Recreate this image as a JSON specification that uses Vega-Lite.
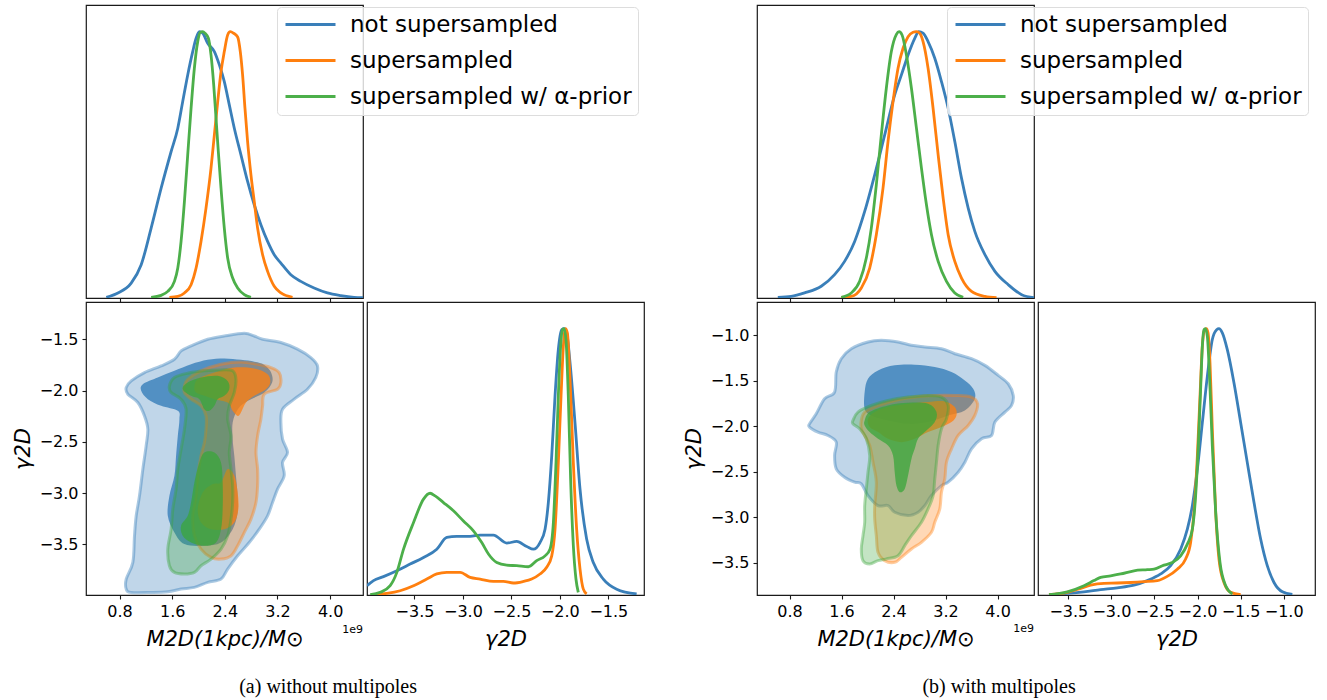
{
"$schema": "https://vega.github.io/schema/vega-lite/v6.json",
"background": "white",
"padding": {"left": 11, "top": 4, "right": 2, "bottom": 2},
"config": {
  "view": {"stroke": "#1a1a1a", "strokeWidth": 1.2},
  "axis": {"domain": false, "grid": false, "tickColor": "#1a1a1a", "tickSize": 4, "tickWidth": 1.1, "labelFont": "DejaVu Sans", "labelFontSize": 16, "labelColor": "#000", "labelPadding": 4, "labelOverlap": false, "labelFlush": false, "titleFont": "DejaVu Sans", "titleFontSize": 21, "titleFontStyle": "italic", "titleFontWeight": "normal", "titleColor": "#000"},
  "axisX": {"titlePadding": 9},
  "axisY": {"titlePadding": 6},
  "legend": {"orient": "none", "title": null, "symbolType": "M-2.5,0H2.5", "symbolSize": 400, "symbolStrokeWidth": 3, "symbolOffset": 16, "labelOffset": 28, "labelFontSize": 23, "labelFont": "DejaVu Sans", "labelColor": "#000", "padding": 6, "rowPadding": 12, "strokeColor": "#dddddd", "fillColor": "rgba(255,255,255,0.8)", "cornerRadius": 4, "labelLimit": 400}
},
"datasets": {
  "mA": [
    {"s":"not supersampled","x":0.598,"d":0.0025},{"s":"not supersampled","x":0.775,"d":0.019},{"s":"not supersampled","x":0.977,"d":0.056},{"s":"not supersampled","x":1.129,"d":0.125},{"s":"not supersampled","x":1.28,"d":0.2625},{"s":"not supersampled","x":1.432,"d":0.4125},{"s":"not supersampled","x":1.584,"d":0.55},{"s":"not supersampled","x":1.685,"d":0.6375},{"s":"not supersampled","x":1.76,"d":0.7375},{"s":"not supersampled","x":1.836,"d":0.8375},{"s":"not supersampled","x":1.912,"d":0.925},{"s":"not supersampled","x":1.963,"d":0.975},{"s":"not supersampled","x":2.013,"d":1.0},{"s":"not supersampled","x":2.064,"d":0.994},{"s":"not supersampled","x":2.14,"d":0.956},{"s":"not supersampled","x":2.241,"d":0.925},{"s":"not supersampled","x":2.317,"d":0.875},{"s":"not supersampled","x":2.392,"d":0.8125},{"s":"not supersampled","x":2.468,"d":0.725},{"s":"not supersampled","x":2.544,"d":0.6375},{"s":"not supersampled","x":2.645,"d":0.5375},{"s":"not supersampled","x":2.746,"d":0.4375},{"s":"not supersampled","x":2.847,"d":0.35},{"s":"not supersampled","x":2.948,"d":0.275},{"s":"not supersampled","x":3.05,"d":0.2125},{"s":"not supersampled","x":3.151,"d":0.1625},{"s":"not supersampled","x":3.252,"d":0.131},{"s":"not supersampled","x":3.403,"d":0.0875},{"s":"not supersampled","x":3.555,"d":0.0625},{"s":"not supersampled","x":3.757,"d":0.0375},{"s":"not supersampled","x":3.959,"d":0.019},{"s":"not supersampled","x":4.162,"d":0.009},{"s":"not supersampled","x":4.364,"d":0.0025},{"s":"not supersampled","x":4.5,"d":0.001},
    {"s":"supersampled","x":1.558,"d":0.0025},{"s":"supersampled","x":1.685,"d":0.006},{"s":"supersampled","x":1.786,"d":0.019},{"s":"supersampled","x":1.887,"d":0.05},{"s":"supersampled","x":1.963,"d":0.1125},{"s":"supersampled","x":2.038,"d":0.2125},{"s":"supersampled","x":2.114,"d":0.3375},{"s":"supersampled","x":2.19,"d":0.4875},{"s":"supersampled","x":2.241,"d":0.6125},{"s":"supersampled","x":2.292,"d":0.7375},{"s":"supersampled","x":2.342,"d":0.85},{"s":"supersampled","x":2.392,"d":0.925},{"s":"supersampled","x":2.443,"d":0.9875},{"s":"supersampled","x":2.483,"d":1.0},{"s":"supersampled","x":2.534,"d":0.994},{"s":"supersampled","x":2.595,"d":0.98},{"s":"supersampled","x":2.635,"d":0.925},{"s":"supersampled","x":2.67,"d":0.8375},{"s":"supersampled","x":2.706,"d":0.7125},{"s":"supersampled","x":2.746,"d":0.5875},{"s":"supersampled","x":2.797,"d":0.4625},{"s":"supersampled","x":2.847,"d":0.3625},{"s":"supersampled","x":2.898,"d":0.2625},{"s":"supersampled","x":2.974,"d":0.1625},{"s":"supersampled","x":3.05,"d":0.1},{"s":"supersampled","x":3.151,"d":0.044},{"s":"supersampled","x":3.252,"d":0.019},{"s":"supersampled","x":3.429,"d":0.0025},
    {"s":"supersampled w/ α-prior","x":1.28,"d":0.0025},{"s":"supersampled w/ α-prior","x":1.432,"d":0.01},{"s":"supersampled w/ α-prior","x":1.533,"d":0.025},{"s":"supersampled w/ α-prior","x":1.634,"d":0.0625},{"s":"supersampled w/ α-prior","x":1.685,"d":0.1125},{"s":"supersampled w/ α-prior","x":1.735,"d":0.2125},{"s":"supersampled w/ α-prior","x":1.786,"d":0.3625},{"s":"supersampled w/ α-prior","x":1.836,"d":0.5375},{"s":"supersampled w/ α-prior","x":1.887,"d":0.7125},{"s":"supersampled w/ α-prior","x":1.937,"d":0.8625},{"s":"supersampled w/ α-prior","x":1.988,"d":0.9625},{"s":"supersampled w/ α-prior","x":2.028,"d":0.9975},{"s":"supersampled w/ α-prior","x":2.064,"d":1.0},{"s":"supersampled w/ α-prior","x":2.099,"d":0.994},{"s":"supersampled w/ α-prior","x":2.15,"d":0.975},{"s":"supersampled w/ α-prior","x":2.19,"d":0.9125},{"s":"supersampled w/ α-prior","x":2.231,"d":0.8},{"s":"supersampled w/ α-prior","x":2.266,"d":0.675},{"s":"supersampled w/ α-prior","x":2.301,"d":0.55},{"s":"supersampled w/ α-prior","x":2.342,"d":0.4125},{"s":"supersampled w/ α-prior","x":2.392,"d":0.2625},{"s":"supersampled w/ α-prior","x":2.443,"d":0.15},{"s":"supersampled w/ α-prior","x":2.519,"d":0.075},{"s":"supersampled w/ α-prior","x":2.595,"d":0.0375},{"s":"supersampled w/ α-prior","x":2.696,"d":0.0125},{"s":"supersampled w/ α-prior","x":2.797,"d":0.0025}
  ],
  "mB": [
    {"s":"not supersampled","x":0.62,"d":0.0025},{"s":"not supersampled","x":0.826,"d":0.006},{"s":"not supersampled","x":1.031,"d":0.019},{"s":"not supersampled","x":1.288,"d":0.044},{"s":"not supersampled","x":1.493,"d":0.0875},{"s":"not supersampled","x":1.647,"d":0.1375},{"s":"not supersampled","x":1.802,"d":0.2125},{"s":"not supersampled","x":1.956,"d":0.325},{"s":"not supersampled","x":2.11,"d":0.4625},{"s":"not supersampled","x":2.264,"d":0.6125},{"s":"not supersampled","x":2.418,"d":0.7625},{"s":"not supersampled","x":2.521,"d":0.8375},{"s":"not supersampled","x":2.623,"d":0.9125},{"s":"not supersampled","x":2.726,"d":0.975},{"s":"not supersampled","x":2.788,"d":1.0},{"s":"not supersampled","x":2.854,"d":0.994},{"s":"not supersampled","x":2.931,"d":0.9625},{"s":"not supersampled","x":3.034,"d":0.9},{"s":"not supersampled","x":3.137,"d":0.8125},{"s":"not supersampled","x":3.24,"d":0.7125},{"s":"not supersampled","x":3.342,"d":0.5875},{"s":"not supersampled","x":3.445,"d":0.45},{"s":"not supersampled","x":3.548,"d":0.3375},{"s":"not supersampled","x":3.65,"d":0.25},{"s":"not supersampled","x":3.805,"d":0.1625},{"s":"not supersampled","x":3.959,"d":0.1},{"s":"not supersampled","x":4.164,"d":0.05},{"s":"not supersampled","x":4.37,"d":0.0125},{"s":"not supersampled","x":4.56,"d":0.001},
    {"s":"supersampled","x":1.596,"d":0.0025},{"s":"supersampled","x":1.75,"d":0.006},{"s":"supersampled","x":1.904,"d":0.0375},{"s":"supersampled","x":2.033,"d":0.1125},{"s":"supersampled","x":2.135,"d":0.2375},{"s":"supersampled","x":2.238,"d":0.4125},{"s":"supersampled","x":2.315,"d":0.5875},{"s":"supersampled","x":2.392,"d":0.7375},{"s":"supersampled","x":2.469,"d":0.8625},{"s":"supersampled","x":2.546,"d":0.9375},{"s":"supersampled","x":2.623,"d":0.981},{"s":"supersampled","x":2.7,"d":0.9975},{"s":"supersampled","x":2.752,"d":1.0},{"s":"supersampled","x":2.803,"d":0.994},{"s":"supersampled","x":2.854,"d":0.9625},{"s":"supersampled","x":2.931,"d":0.8625},{"s":"supersampled","x":3.008,"d":0.7125},{"s":"supersampled","x":3.086,"d":0.5375},{"s":"supersampled","x":3.163,"d":0.375},{"s":"supersampled","x":3.24,"d":0.2375},{"s":"supersampled","x":3.342,"d":0.1375},{"s":"supersampled","x":3.445,"d":0.075},{"s":"supersampled","x":3.599,"d":0.025},{"s":"supersampled","x":3.805,"d":0.006},{"s":"supersampled","x":3.984,"d":0.001},
    {"s":"supersampled w/ α-prior","x":1.596,"d":0.0025},{"s":"supersampled w/ α-prior","x":1.75,"d":0.019},{"s":"supersampled w/ α-prior","x":1.879,"d":0.0625},{"s":"supersampled w/ α-prior","x":1.981,"d":0.15},{"s":"supersampled w/ α-prior","x":2.058,"d":0.2625},{"s":"supersampled w/ α-prior","x":2.135,"d":0.425},{"s":"supersampled w/ α-prior","x":2.212,"d":0.6125},{"s":"supersampled w/ α-prior","x":2.289,"d":0.7875},{"s":"supersampled w/ α-prior","x":2.366,"d":0.925},{"s":"supersampled w/ α-prior","x":2.444,"d":0.99},{"s":"supersampled w/ α-prior","x":2.485,"d":1.0},{"s":"supersampled w/ α-prior","x":2.531,"d":0.9875},{"s":"supersampled w/ α-prior","x":2.598,"d":0.9125},{"s":"supersampled w/ α-prior","x":2.675,"d":0.7875},{"s":"supersampled w/ α-prior","x":2.752,"d":0.6375},{"s":"supersampled w/ α-prior","x":2.829,"d":0.4875},{"s":"supersampled w/ α-prior","x":2.906,"d":0.35},{"s":"supersampled w/ α-prior","x":2.983,"d":0.2375},{"s":"supersampled w/ α-prior","x":3.086,"d":0.1375},{"s":"supersampled w/ α-prior","x":3.214,"d":0.0625},{"s":"supersampled w/ α-prior","x":3.342,"d":0.019},{"s":"supersampled w/ α-prior","x":3.471,"d":0.0025}
  ],
  "gA": [
    {"s":"not supersampled","x":-3.99,"d":0.035},{"s":"not supersampled","x":-3.923,"d":0.054},{"s":"not supersampled","x":-3.82,"d":0.069},{"s":"not supersampled","x":-3.682,"d":0.091},{"s":"not supersampled","x":-3.545,"d":0.116},{"s":"not supersampled","x":-3.407,"d":0.141},{"s":"not supersampled","x":-3.27,"d":0.172},{"s":"not supersampled","x":-3.167,"d":0.216},{"s":"not supersampled","x":-3.064,"d":0.22},{"s":"not supersampled","x":-2.926,"d":0.22},{"s":"not supersampled","x":-2.823,"d":0.225},{"s":"not supersampled","x":-2.686,"d":0.225},{"s":"not supersampled","x":-2.548,"d":0.195},{"s":"not supersampled","x":-2.445,"d":0.201},{"s":"not supersampled","x":-2.342,"d":0.182},{"s":"not supersampled","x":-2.273,"d":0.172},{"s":"not supersampled","x":-2.205,"d":0.197},{"s":"not supersampled","x":-2.153,"d":0.247},{"s":"not supersampled","x":-2.119,"d":0.347},{"s":"not supersampled","x":-2.084,"d":0.522},{"s":"not supersampled","x":-2.05,"d":0.747},{"s":"not supersampled","x":-2.016,"d":0.921},{"s":"not supersampled","x":-1.981,"d":0.996},{"s":"not supersampled","x":-1.957,"d":1.0},{"s":"not supersampled","x":-1.93,"d":0.984},{"s":"not supersampled","x":-1.895,"d":0.871},{"s":"not supersampled","x":-1.844,"d":0.647},{"s":"not supersampled","x":-1.792,"d":0.397},{"s":"not supersampled","x":-1.724,"d":0.21},{"s":"not supersampled","x":-1.655,"d":0.122},{"s":"not supersampled","x":-1.552,"d":0.06},{"s":"not supersampled","x":-1.414,"d":0.022},{"s":"not supersampled","x":-1.208,"d":0.004},
    {"s":"supersampled","x":-3.923,"d":0.001},{"s":"supersampled","x":-3.785,"d":0.006},{"s":"supersampled","x":-3.648,"d":0.016},{"s":"supersampled","x":-3.51,"d":0.035},{"s":"supersampled","x":-3.373,"d":0.06},{"s":"supersampled","x":-3.27,"d":0.079},{"s":"supersampled","x":-3.167,"d":0.085},{"s":"supersampled","x":-3.029,"d":0.085},{"s":"supersampled","x":-2.926,"d":0.066},{"s":"supersampled","x":-2.823,"d":0.06},{"s":"supersampled","x":-2.686,"d":0.051},{"s":"supersampled","x":-2.583,"d":0.051},{"s":"supersampled","x":-2.48,"d":0.045},{"s":"supersampled","x":-2.376,"d":0.051},{"s":"supersampled","x":-2.291,"d":0.06},{"s":"supersampled","x":-2.205,"d":0.079},{"s":"supersampled","x":-2.136,"d":0.104},{"s":"supersampled","x":-2.084,"d":0.147},{"s":"supersampled","x":-2.05,"d":0.247},{"s":"supersampled","x":-2.016,"d":0.497},{"s":"supersampled","x":-1.988,"d":0.747},{"s":"supersampled","x":-1.964,"d":0.934},{"s":"supersampled","x":-1.943,"d":1.0},{"s":"supersampled","x":-1.923,"d":0.984},{"s":"supersampled","x":-1.895,"d":0.809},{"s":"supersampled","x":-1.861,"d":0.497},{"s":"supersampled","x":-1.827,"d":0.247},{"s":"supersampled","x":-1.792,"d":0.097},{"s":"supersampled","x":-1.758,"d":0.022},{"s":"supersampled","x":-1.724,"d":0.004},
    {"s":"supersampled w/ α-prior","x":-3.957,"d":0.001},{"s":"supersampled w/ α-prior","x":-3.854,"d":0.01},{"s":"supersampled w/ α-prior","x":-3.751,"d":0.035},{"s":"supersampled w/ α-prior","x":-3.682,"d":0.085},{"s":"supersampled w/ α-prior","x":-3.613,"d":0.172},{"s":"supersampled w/ α-prior","x":-3.51,"d":0.272},{"s":"supersampled w/ α-prior","x":-3.407,"d":0.36},{"s":"supersampled w/ α-prior","x":-3.339,"d":0.382},{"s":"supersampled w/ α-prior","x":-3.287,"d":0.372},{"s":"supersampled w/ α-prior","x":-3.201,"d":0.347},{"s":"supersampled w/ α-prior","x":-3.098,"d":0.316},{"s":"supersampled w/ α-prior","x":-2.995,"d":0.278},{"s":"supersampled w/ α-prior","x":-2.892,"d":0.241},{"s":"supersampled w/ α-prior","x":-2.806,"d":0.197},{"s":"supersampled w/ α-prior","x":-2.737,"d":0.154},{"s":"supersampled w/ α-prior","x":-2.651,"d":0.122},{"s":"supersampled w/ α-prior","x":-2.548,"d":0.112},{"s":"supersampled w/ α-prior","x":-2.445,"d":0.11},{"s":"supersampled w/ α-prior","x":-2.325,"d":0.106},{"s":"supersampled w/ α-prior","x":-2.239,"d":0.129},{"s":"supersampled w/ α-prior","x":-2.153,"d":0.147},{"s":"supersampled w/ α-prior","x":-2.102,"d":0.172},{"s":"supersampled w/ α-prior","x":-2.067,"d":0.272},{"s":"supersampled w/ α-prior","x":-2.04,"d":0.497},{"s":"supersampled w/ α-prior","x":-2.016,"d":0.747},{"s":"supersampled w/ α-prior","x":-1.992,"d":0.934},{"s":"supersampled w/ α-prior","x":-1.974,"d":0.996},{"s":"supersampled w/ α-prior","x":-1.957,"d":1.0},{"s":"supersampled w/ α-prior","x":-1.937,"d":0.959},{"s":"supersampled w/ α-prior","x":-1.913,"d":0.747},{"s":"supersampled w/ α-prior","x":-1.889,"d":0.434},{"s":"supersampled w/ α-prior","x":-1.861,"d":0.185},{"s":"supersampled w/ α-prior","x":-1.834,"d":0.06},{"s":"supersampled w/ α-prior","x":-1.81,"d":0.01}
  ],
  "gB": [
    {"s":"not supersampled","x":-3.724,"d":0.001},{"s":"not supersampled","x":-3.512,"d":0.006},{"s":"not supersampled","x":-3.318,"d":0.012},{"s":"not supersampled","x":-3.125,"d":0.02},{"s":"not supersampled","x":-2.931,"d":0.027},{"s":"not supersampled","x":-2.738,"d":0.037},{"s":"not supersampled","x":-2.583,"d":0.054},{"s":"not supersampled","x":-2.428,"d":0.079},{"s":"not supersampled","x":-2.312,"d":0.11},{"s":"not supersampled","x":-2.196,"d":0.172},{"s":"not supersampled","x":-2.118,"d":0.247},{"s":"not supersampled","x":-2.06,"d":0.335},{"s":"not supersampled","x":-2.002,"d":0.472},{"s":"not supersampled","x":-1.944,"d":0.647},{"s":"not supersampled","x":-1.886,"d":0.821},{"s":"not supersampled","x":-1.828,"d":0.959},{"s":"not supersampled","x":-1.778,"d":0.996},{"s":"not supersampled","x":-1.751,"d":1.0},{"s":"not supersampled","x":-1.712,"d":0.984},{"s":"not supersampled","x":-1.654,"d":0.921},{"s":"not supersampled","x":-1.577,"d":0.797},{"s":"not supersampled","x":-1.499,"d":0.647},{"s":"not supersampled","x":-1.422,"d":0.497},{"s":"not supersampled","x":-1.344,"d":0.347},{"s":"not supersampled","x":-1.267,"d":0.21},{"s":"not supersampled","x":-1.19,"d":0.11},{"s":"not supersampled","x":-1.112,"d":0.047},{"s":"not supersampled","x":-1.015,"d":0.012},{"s":"not supersampled","x":-0.899,"d":0.002},
    {"s":"supersampled","x":-3.724,"d":0.001},{"s":"supersampled","x":-3.512,"d":0.01},{"s":"supersampled","x":-3.357,"d":0.025},{"s":"supersampled","x":-3.241,"d":0.037},{"s":"supersampled","x":-3.086,"d":0.044},{"s":"supersampled","x":-2.931,"d":0.045},{"s":"supersampled","x":-2.776,"d":0.047},{"s":"supersampled","x":-2.622,"d":0.05},{"s":"supersampled","x":-2.467,"d":0.054},{"s":"supersampled","x":-2.351,"d":0.07},{"s":"supersampled","x":-2.235,"d":0.097},{"s":"supersampled","x":-2.138,"d":0.135},{"s":"supersampled","x":-2.08,"d":0.197},{"s":"supersampled","x":-2.041,"d":0.31},{"s":"supersampled","x":-2.002,"d":0.522},{"s":"supersampled","x":-1.971,"d":0.747},{"s":"supersampled","x":-1.944,"d":0.934},{"s":"supersampled","x":-1.917,"d":0.996},{"s":"supersampled","x":-1.898,"d":1.0},{"s":"supersampled","x":-1.878,"d":0.984},{"s":"supersampled","x":-1.855,"d":0.871},{"s":"supersampled","x":-1.828,"d":0.622},{"s":"supersampled","x":-1.789,"d":0.31},{"s":"supersampled","x":-1.751,"d":0.135},{"s":"supersampled","x":-1.693,"d":0.047},{"s":"supersampled","x":-1.615,"d":0.01},{"s":"supersampled","x":-1.499,"d":0.001},
    {"s":"supersampled w/ α-prior","x":-3.724,"d":0.001},{"s":"supersampled w/ α-prior","x":-3.512,"d":0.012},{"s":"supersampled w/ α-prior","x":-3.318,"d":0.035},{"s":"supersampled w/ α-prior","x":-3.202,"d":0.054},{"s":"supersampled w/ α-prior","x":-3.125,"d":0.066},{"s":"supersampled w/ α-prior","x":-3.009,"d":0.072},{"s":"supersampled w/ α-prior","x":-2.892,"d":0.079},{"s":"supersampled w/ α-prior","x":-2.738,"d":0.091},{"s":"supersampled w/ α-prior","x":-2.583,"d":0.095},{"s":"supersampled w/ α-prior","x":-2.505,"d":0.097},{"s":"supersampled w/ α-prior","x":-2.389,"d":0.112},{"s":"supersampled w/ α-prior","x":-2.293,"d":0.122},{"s":"supersampled w/ α-prior","x":-2.196,"d":0.147},{"s":"supersampled w/ α-prior","x":-2.118,"d":0.191},{"s":"supersampled w/ α-prior","x":-2.06,"d":0.247},{"s":"supersampled w/ α-prior","x":-2.022,"d":0.372},{"s":"supersampled w/ α-prior","x":-1.991,"d":0.559},{"s":"supersampled w/ α-prior","x":-1.964,"d":0.772},{"s":"supersampled w/ α-prior","x":-1.944,"d":0.934},{"s":"supersampled w/ α-prior","x":-1.925,"d":0.996},{"s":"supersampled w/ α-prior","x":-1.909,"d":1.0},{"s":"supersampled w/ α-prior","x":-1.886,"d":0.971},{"s":"supersampled w/ α-prior","x":-1.859,"d":0.809},{"s":"supersampled w/ α-prior","x":-1.828,"d":0.559},{"s":"supersampled w/ α-prior","x":-1.789,"d":0.31},{"s":"supersampled w/ α-prior","x":-1.739,"d":0.122},{"s":"supersampled w/ α-prior","x":-1.673,"d":0.035},{"s":"supersampled w/ α-prior","x":-1.596,"d":0.004}
  ],
  "cA": [
    {"p":"a1","s":"blue","l":"outer","M":0.901,"g":-1.971},{"p":"a1","s":"blue","l":"outer","M":0.977,"g":-1.906},{"p":"a1","s":"blue","l":"outer","M":1.179,"g":-1.825},{"p":"a1","s":"blue","l":"outer","M":1.432,"g":-1.76},{"p":"a1","s":"blue","l":"outer","M":1.634,"g":-1.695},{"p":"a1","s":"blue","l":"outer","M":1.735,"g":-1.614},{"p":"a1","s":"blue","l":"outer","M":1.887,"g":-1.565},{"p":"a1","s":"blue","l":"outer","M":2.14,"g":-1.5},{"p":"a1","s":"blue","l":"outer","M":2.392,"g":-1.468},{"p":"a1","s":"blue","l":"outer","M":2.696,"g":-1.442},{"p":"a1","s":"blue","l":"outer","M":2.847,"g":-1.468},{"p":"a1","s":"blue","l":"outer","M":2.974,"g":-1.5},{"p":"a1","s":"blue","l":"outer","M":3.252,"g":-1.532},{"p":"a1","s":"blue","l":"outer","M":3.505,"g":-1.597},{"p":"a1","s":"blue","l":"outer","M":3.707,"g":-1.679},{"p":"a1","s":"blue","l":"outer","M":3.808,"g":-1.76},{"p":"a1","s":"blue","l":"outer","M":3.782,"g":-1.873},{"p":"a1","s":"blue","l":"outer","M":3.656,"g":-1.987},{"p":"a1","s":"blue","l":"outer","M":3.454,"g":-2.084},{"p":"a1","s":"blue","l":"outer","M":3.277,"g":-2.182},{"p":"a1","s":"blue","l":"outer","M":3.252,"g":-2.312},{"p":"a1","s":"blue","l":"outer","M":3.277,"g":-2.474},{"p":"a1","s":"blue","l":"outer","M":3.353,"g":-2.604},{"p":"a1","s":"blue","l":"outer","M":3.277,"g":-2.701},{"p":"a1","s":"blue","l":"outer","M":3.302,"g":-2.831},{"p":"a1","s":"blue","l":"outer","M":3.201,"g":-2.961},{"p":"a1","s":"blue","l":"outer","M":3.125,"g":-3.091},{"p":"a1","s":"blue","l":"outer","M":3.05,"g":-3.221},{"p":"a1","s":"blue","l":"outer","M":2.923,"g":-3.351},{"p":"a1","s":"blue","l":"outer","M":2.771,"g":-3.481},{"p":"a1","s":"blue","l":"outer","M":2.595,"g":-3.611},{"p":"a1","s":"blue","l":"outer","M":2.443,"g":-3.74},{"p":"a1","s":"blue","l":"outer","M":2.342,"g":-3.838},{"p":"a1","s":"blue","l":"outer","M":2.14,"g":-3.87},{"p":"a1","s":"blue","l":"outer","M":1.937,"g":-3.919},{"p":"a1","s":"blue","l":"outer","M":1.735,"g":-3.935},{"p":"a1","s":"blue","l":"outer","M":1.533,"g":-3.961},{"p":"a1","s":"blue","l":"outer","M":1.28,"g":-3.968},{"p":"a1","s":"blue","l":"outer","M":0.977,"g":-3.968},{"p":"a1","s":"blue","l":"outer","M":0.901,"g":-3.935},{"p":"a1","s":"blue","l":"outer","M":0.901,"g":-3.838},{"p":"a1","s":"blue","l":"outer","M":1.002,"g":-3.675},{"p":"a1","s":"blue","l":"outer","M":1.027,"g":-3.416},{"p":"a1","s":"blue","l":"outer","M":1.053,"g":-3.221},{"p":"a1","s":"blue","l":"outer","M":1.103,"g":-3.026},{"p":"a1","s":"blue","l":"outer","M":1.154,"g":-2.766},{"p":"a1","s":"blue","l":"outer","M":1.204,"g":-2.539},{"p":"a1","s":"blue","l":"outer","M":1.23,"g":-2.377},{"p":"a1","s":"blue","l":"outer","M":1.179,"g":-2.247},{"p":"a1","s":"blue","l":"outer","M":1.078,"g":-2.117},{"p":"a1","s":"blue","l":"outer","M":0.926,"g":-2.036},
    {"p":"a2","s":"blue","l":"inner","M":1.129,"g":-2.003},{"p":"a2","s":"blue","l":"inner","M":1.154,"g":-1.938},{"p":"a2","s":"blue","l":"inner","M":1.381,"g":-1.873},{"p":"a2","s":"blue","l":"inner","M":1.634,"g":-1.808},{"p":"a2","s":"blue","l":"inner","M":1.887,"g":-1.744},{"p":"a2","s":"blue","l":"inner","M":2.14,"g":-1.701},{"p":"a2","s":"blue","l":"inner","M":2.392,"g":-1.688},{"p":"a2","s":"blue","l":"inner","M":2.645,"g":-1.701},{"p":"a2","s":"blue","l":"inner","M":2.85,"g":-1.72},{"p":"a2","s":"blue","l":"inner","M":3.0,"g":-1.75},{"p":"a2","s":"blue","l":"inner","M":3.1,"g":-1.82},{"p":"a2","s":"blue","l":"inner","M":3.12,"g":-1.92},{"p":"a2","s":"blue","l":"inner","M":3.0,"g":-2.02},{"p":"a2","s":"blue","l":"inner","M":2.75,"g":-2.1},{"p":"a2","s":"blue","l":"inner","M":2.6,"g":-2.18},{"p":"a2","s":"blue","l":"inner","M":2.52,"g":-2.31},{"p":"a2","s":"blue","l":"inner","M":2.519,"g":-2.474},{"p":"a2","s":"blue","l":"inner","M":2.544,"g":-2.636},{"p":"a2","s":"blue","l":"inner","M":2.569,"g":-2.831},{"p":"a2","s":"blue","l":"inner","M":2.595,"g":-3.026},{"p":"a2","s":"blue","l":"inner","M":2.595,"g":-3.188},{"p":"a2","s":"blue","l":"inner","M":2.519,"g":-3.351},{"p":"a2","s":"blue","l":"inner","M":2.342,"g":-3.481},{"p":"a2","s":"blue","l":"inner","M":2.089,"g":-3.513},{"p":"a2","s":"blue","l":"inner","M":1.786,"g":-3.497},{"p":"a2","s":"blue","l":"inner","M":1.634,"g":-3.383},{"p":"a2","s":"blue","l":"inner","M":1.533,"g":-3.221},{"p":"a2","s":"blue","l":"inner","M":1.558,"g":-3.026},{"p":"a2","s":"blue","l":"inner","M":1.634,"g":-2.831},{"p":"a2","s":"blue","l":"inner","M":1.659,"g":-2.636},{"p":"a2","s":"blue","l":"inner","M":1.685,"g":-2.442},{"p":"a2","s":"blue","l":"inner","M":1.71,"g":-2.279},{"p":"a2","s":"blue","l":"inner","M":1.685,"g":-2.198},{"p":"a2","s":"blue","l":"inner","M":1.432,"g":-2.149},{"p":"a2","s":"blue","l":"inner","M":1.23,"g":-2.084},
    {"p":"a3","s":"orange","l":"outer","M":1.786,"g":-1.955},{"p":"a3","s":"orange","l":"outer","M":1.836,"g":-1.89},{"p":"a3","s":"orange","l":"outer","M":2.038,"g":-1.808},{"p":"a3","s":"orange","l":"outer","M":2.342,"g":-1.744},{"p":"a3","s":"orange","l":"outer","M":2.645,"g":-1.721},{"p":"a3","s":"orange","l":"outer","M":2.898,"g":-1.744},{"p":"a3","s":"orange","l":"outer","M":3.1,"g":-1.776},{"p":"a3","s":"orange","l":"outer","M":3.226,"g":-1.825},{"p":"a3","s":"orange","l":"outer","M":3.252,"g":-1.922},{"p":"a3","s":"orange","l":"outer","M":3.201,"g":-1.987},{"p":"a3","s":"orange","l":"outer","M":2.999,"g":-2.036},{"p":"a3","s":"orange","l":"outer","M":2.974,"g":-2.149},{"p":"a3","s":"orange","l":"outer","M":2.948,"g":-2.279},{"p":"a3","s":"orange","l":"outer","M":2.898,"g":-2.442},{"p":"a3","s":"orange","l":"outer","M":2.873,"g":-2.604},{"p":"a3","s":"orange","l":"outer","M":2.898,"g":-2.766},{"p":"a3","s":"orange","l":"outer","M":2.898,"g":-2.929},{"p":"a3","s":"orange","l":"outer","M":2.873,"g":-3.091},{"p":"a3","s":"orange","l":"outer","M":2.797,"g":-3.253},{"p":"a3","s":"orange","l":"outer","M":2.696,"g":-3.383},{"p":"a3","s":"orange","l":"outer","M":2.595,"g":-3.513},{"p":"a3","s":"orange","l":"outer","M":2.494,"g":-3.611},{"p":"a3","s":"orange","l":"outer","M":2.342,"g":-3.643},{"p":"a3","s":"orange","l":"outer","M":2.19,"g":-3.627},{"p":"a3","s":"orange","l":"outer","M":2.038,"g":-3.546},{"p":"a3","s":"orange","l":"outer","M":1.937,"g":-3.416},{"p":"a3","s":"orange","l":"outer","M":1.912,"g":-3.221},{"p":"a3","s":"orange","l":"outer","M":1.963,"g":-3.026},{"p":"a3","s":"orange","l":"outer","M":1.988,"g":-2.831},{"p":"a3","s":"orange","l":"outer","M":2.038,"g":-2.636},{"p":"a3","s":"orange","l":"outer","M":2.089,"g":-2.507},{"p":"a3","s":"orange","l":"outer","M":2.114,"g":-2.377},{"p":"a3","s":"orange","l":"outer","M":2.114,"g":-2.247},{"p":"a3","s":"orange","l":"outer","M":2.038,"g":-2.149},{"p":"a3","s":"orange","l":"outer","M":1.887,"g":-2.084},{"p":"a3","s":"orange","l":"outer","M":1.786,"g":-2.019},
    {"p":"a4","s":"orange","l":"inner","M":1.937,"g":-1.971},{"p":"a4","s":"orange","l":"inner","M":1.988,"g":-1.89},{"p":"a4","s":"orange","l":"inner","M":2.241,"g":-1.825},{"p":"a4","s":"orange","l":"inner","M":2.544,"g":-1.776},{"p":"a4","s":"orange","l":"inner","M":2.847,"g":-1.786},{"p":"a4","s":"orange","l":"inner","M":3.05,"g":-1.841},{"p":"a4","s":"orange","l":"inner","M":3.09,"g":-1.922},{"p":"a4","s":"orange","l":"inner","M":3.024,"g":-1.987},{"p":"a4","s":"orange","l":"inner","M":2.847,"g":-2.052},{"p":"a4","s":"orange","l":"inner","M":2.721,"g":-2.117},{"p":"a4","s":"orange","l":"inner","M":2.645,"g":-2.214},{"p":"a4","s":"orange","l":"inner","M":2.595,"g":-2.247},{"p":"a4","s":"orange","l":"inner","M":2.519,"g":-2.198},{"p":"a4","s":"orange","l":"inner","M":2.443,"g":-2.117},{"p":"a4","s":"orange","l":"inner","M":2.241,"g":-2.084},{"p":"a4","s":"orange","l":"inner","M":2.089,"g":-2.052},{"p":"a4","s":"orange","l":"inner","M":1.963,"g":-2.019},
    {"p":"a5","s":"orange","l":"inner","M":2.342,"g":-2.896},{"p":"a5","s":"orange","l":"inner","M":2.443,"g":-2.766},{"p":"a5","s":"orange","l":"inner","M":2.544,"g":-2.831},{"p":"a5","s":"orange","l":"inner","M":2.595,"g":-2.994},{"p":"a5","s":"orange","l":"inner","M":2.605,"g":-3.156},{"p":"a5","s":"orange","l":"inner","M":2.544,"g":-3.286},{"p":"a5","s":"orange","l":"inner","M":2.392,"g":-3.351},{"p":"a5","s":"orange","l":"inner","M":2.19,"g":-3.351},{"p":"a5","s":"orange","l":"inner","M":2.038,"g":-3.286},{"p":"a5","s":"orange","l":"inner","M":1.988,"g":-3.156},{"p":"a5","s":"orange","l":"inner","M":2.064,"g":-2.994},{"p":"a5","s":"orange","l":"inner","M":2.215,"g":-2.912},
    {"p":"a6","s":"green","l":"outer","M":1.558,"g":-1.955},{"p":"a6","s":"green","l":"outer","M":1.634,"g":-1.873},{"p":"a6","s":"green","l":"outer","M":1.836,"g":-1.831},{"p":"a6","s":"green","l":"outer","M":2.089,"g":-1.808},{"p":"a6","s":"green","l":"outer","M":2.342,"g":-1.799},{"p":"a6","s":"green","l":"outer","M":2.519,"g":-1.808},{"p":"a6","s":"green","l":"outer","M":2.569,"g":-1.89},{"p":"a6","s":"green","l":"outer","M":2.544,"g":-2.019},{"p":"a6","s":"green","l":"outer","M":2.468,"g":-2.149},{"p":"a6","s":"green","l":"outer","M":2.443,"g":-2.279},{"p":"a6","s":"green","l":"outer","M":2.494,"g":-2.442},{"p":"a6","s":"green","l":"outer","M":2.468,"g":-2.604},{"p":"a6","s":"green","l":"outer","M":2.494,"g":-2.766},{"p":"a6","s":"green","l":"outer","M":2.519,"g":-2.929},{"p":"a6","s":"green","l":"outer","M":2.519,"g":-3.091},{"p":"a6","s":"green","l":"outer","M":2.494,"g":-3.253},{"p":"a6","s":"green","l":"outer","M":2.443,"g":-3.416},{"p":"a6","s":"green","l":"outer","M":2.342,"g":-3.546},{"p":"a6","s":"green","l":"outer","M":2.19,"g":-3.643},{"p":"a6","s":"green","l":"outer","M":2.038,"g":-3.708},{"p":"a6","s":"green","l":"outer","M":1.937,"g":-3.773},{"p":"a6","s":"green","l":"outer","M":1.786,"g":-3.789},{"p":"a6","s":"green","l":"outer","M":1.634,"g":-3.773},{"p":"a6","s":"green","l":"outer","M":1.558,"g":-3.708},{"p":"a6","s":"green","l":"outer","M":1.533,"g":-3.546},{"p":"a6","s":"green","l":"outer","M":1.584,"g":-3.351},{"p":"a6","s":"green","l":"outer","M":1.609,"g":-3.156},{"p":"a6","s":"green","l":"outer","M":1.659,"g":-2.961},{"p":"a6","s":"green","l":"outer","M":1.685,"g":-2.766},{"p":"a6","s":"green","l":"outer","M":1.735,"g":-2.572},{"p":"a6","s":"green","l":"outer","M":1.786,"g":-2.377},{"p":"a6","s":"green","l":"outer","M":1.811,"g":-2.182},{"p":"a6","s":"green","l":"outer","M":1.735,"g":-2.084},{"p":"a6","s":"green","l":"outer","M":1.584,"g":-2.019},
    {"p":"a7","s":"green","l":"inner","M":1.76,"g":-1.987},{"p":"a7","s":"green","l":"inner","M":1.836,"g":-1.922},{"p":"a7","s":"green","l":"inner","M":2.038,"g":-1.873},{"p":"a7","s":"green","l":"inner","M":2.291,"g":-1.857},{"p":"a7","s":"green","l":"inner","M":2.443,"g":-1.906},{"p":"a7","s":"green","l":"inner","M":2.468,"g":-1.987},{"p":"a7","s":"green","l":"inner","M":2.392,"g":-2.052},{"p":"a7","s":"green","l":"inner","M":2.291,"g":-2.084},{"p":"a7","s":"green","l":"inner","M":2.241,"g":-2.149},{"p":"a7","s":"green","l":"inner","M":2.165,"g":-2.198},{"p":"a7","s":"green","l":"inner","M":2.089,"g":-2.182},{"p":"a7","s":"green","l":"inner","M":2.013,"g":-2.084},{"p":"a7","s":"green","l":"inner","M":1.887,"g":-2.052},
    {"p":"a8","s":"green","l":"inner","M":1.937,"g":-2.896},{"p":"a8","s":"green","l":"inner","M":2.013,"g":-2.701},{"p":"a8","s":"green","l":"inner","M":2.089,"g":-2.604},{"p":"a8","s":"green","l":"inner","M":2.241,"g":-2.604},{"p":"a8","s":"green","l":"inner","M":2.342,"g":-2.701},{"p":"a8","s":"green","l":"inner","M":2.367,"g":-2.896},{"p":"a8","s":"green","l":"inner","M":2.367,"g":-3.156},{"p":"a8","s":"green","l":"inner","M":2.342,"g":-3.351},{"p":"a8","s":"green","l":"inner","M":2.266,"g":-3.481},{"p":"a8","s":"green","l":"inner","M":2.089,"g":-3.513},{"p":"a8","s":"green","l":"inner","M":1.887,"g":-3.481},{"p":"a8","s":"green","l":"inner","M":1.76,"g":-3.416},{"p":"a8","s":"green","l":"inner","M":1.735,"g":-3.318},{"p":"a8","s":"green","l":"inner","M":1.836,"g":-3.221},{"p":"a8","s":"green","l":"inner","M":1.887,"g":-3.091}
  ],
  "cB": [
    {"p":"b1","s":"blue","l":"outer","M":1.108,"g":-1.972},{"p":"b1","s":"blue","l":"outer","M":1.211,"g":-1.862},{"p":"b1","s":"blue","l":"outer","M":1.339,"g":-1.697},{"p":"b1","s":"blue","l":"outer","M":1.493,"g":-1.623},{"p":"b1","s":"blue","l":"outer","M":1.519,"g":-1.403},{"p":"b1","s":"blue","l":"outer","M":1.596,"g":-1.257},{"p":"b1","s":"blue","l":"outer","M":1.75,"g":-1.147},{"p":"b1","s":"blue","l":"outer","M":2.007,"g":-1.073},{"p":"b1","s":"blue","l":"outer","M":2.212,"g":-1.055},{"p":"b1","s":"blue","l":"outer","M":2.469,"g":-1.073},{"p":"b1","s":"blue","l":"outer","M":2.675,"g":-1.11},{"p":"b1","s":"blue","l":"outer","M":2.88,"g":-1.128},{"p":"b1","s":"blue","l":"outer","M":3.137,"g":-1.147},{"p":"b1","s":"blue","l":"outer","M":3.342,"g":-1.202},{"p":"b1","s":"blue","l":"outer","M":3.599,"g":-1.257},{"p":"b1","s":"blue","l":"outer","M":3.805,"g":-1.33},{"p":"b1","s":"blue","l":"outer","M":4.01,"g":-1.44},{"p":"b1","s":"blue","l":"outer","M":4.164,"g":-1.532},{"p":"b1","s":"blue","l":"outer","M":4.241,"g":-1.66},{"p":"b1","s":"blue","l":"outer","M":4.215,"g":-1.77},{"p":"b1","s":"blue","l":"outer","M":4.113,"g":-1.843},{"p":"b1","s":"blue","l":"outer","M":3.959,"g":-1.953},{"p":"b1","s":"blue","l":"outer","M":3.907,"g":-2.1},{"p":"b1","s":"blue","l":"outer","M":3.753,"g":-2.136},{"p":"b1","s":"blue","l":"outer","M":3.599,"g":-2.247},{"p":"b1","s":"blue","l":"outer","M":3.497,"g":-2.393},{"p":"b1","s":"blue","l":"outer","M":3.394,"g":-2.503},{"p":"b1","s":"blue","l":"outer","M":3.24,"g":-2.613},{"p":"b1","s":"blue","l":"outer","M":3.137,"g":-2.65},{"p":"b1","s":"blue","l":"outer","M":2.983,"g":-2.76},{"p":"b1","s":"blue","l":"outer","M":2.88,"g":-2.87},{"p":"b1","s":"blue","l":"outer","M":2.777,"g":-2.943},{"p":"b1","s":"blue","l":"outer","M":2.623,"g":-2.98},{"p":"b1","s":"blue","l":"outer","M":2.418,"g":-2.943},{"p":"b1","s":"blue","l":"outer","M":2.315,"g":-2.87},{"p":"b1","s":"blue","l":"outer","M":2.161,"g":-2.87},{"p":"b1","s":"blue","l":"outer","M":2.007,"g":-2.76},{"p":"b1","s":"blue","l":"outer","M":1.904,"g":-2.631},{"p":"b1","s":"blue","l":"outer","M":1.802,"g":-2.613},{"p":"b1","s":"blue","l":"outer","M":1.647,"g":-2.558},{"p":"b1","s":"blue","l":"outer","M":1.519,"g":-2.466},{"p":"b1","s":"blue","l":"outer","M":1.493,"g":-2.32},{"p":"b1","s":"blue","l":"outer","M":1.519,"g":-2.173},{"p":"b1","s":"blue","l":"outer","M":1.391,"g":-2.1},{"p":"b1","s":"blue","l":"outer","M":1.237,"g":-2.063},{"p":"b1","s":"blue","l":"outer","M":1.108,"g":-2.008},
    {"p":"b2","s":"blue","l":"inner","M":1.956,"g":-1.623},{"p":"b2","s":"blue","l":"inner","M":2.007,"g":-1.477},{"p":"b2","s":"blue","l":"inner","M":2.161,"g":-1.385},{"p":"b2","s":"blue","l":"inner","M":2.418,"g":-1.33},{"p":"b2","s":"blue","l":"inner","M":2.726,"g":-1.323},{"p":"b2","s":"blue","l":"inner","M":3.034,"g":-1.348},{"p":"b2","s":"blue","l":"inner","M":3.291,"g":-1.403},{"p":"b2","s":"blue","l":"inner","M":3.496,"g":-1.495},{"p":"b2","s":"blue","l":"inner","M":3.625,"g":-1.587},{"p":"b2","s":"blue","l":"inner","M":3.65,"g":-1.697},{"p":"b2","s":"blue","l":"inner","M":3.496,"g":-1.825},{"p":"b2","s":"blue","l":"inner","M":3.24,"g":-1.88},{"p":"b2","s":"blue","l":"inner","M":2.931,"g":-1.953},{"p":"b2","s":"blue","l":"inner","M":2.623,"g":-1.972},{"p":"b2","s":"blue","l":"inner","M":2.315,"g":-1.935},{"p":"b2","s":"blue","l":"inner","M":2.058,"g":-1.88},{"p":"b2","s":"blue","l":"inner","M":1.956,"g":-1.807},
    {"p":"b3","s":"orange","l":"outer","M":1.904,"g":-1.935},{"p":"b3","s":"orange","l":"outer","M":1.956,"g":-1.843},{"p":"b3","s":"orange","l":"outer","M":2.161,"g":-1.77},{"p":"b3","s":"orange","l":"outer","M":2.418,"g":-1.715},{"p":"b3","s":"orange","l":"outer","M":2.726,"g":-1.678},{"p":"b3","s":"orange","l":"outer","M":3.034,"g":-1.66},{"p":"b3","s":"orange","l":"outer","M":3.342,"g":-1.66},{"p":"b3","s":"orange","l":"outer","M":3.599,"g":-1.678},{"p":"b3","s":"orange","l":"outer","M":3.692,"g":-1.752},{"p":"b3","s":"orange","l":"outer","M":3.65,"g":-1.88},{"p":"b3","s":"orange","l":"outer","M":3.548,"g":-1.99},{"p":"b3","s":"orange","l":"outer","M":3.394,"g":-2.1},{"p":"b3","s":"orange","l":"outer","M":3.291,"g":-2.247},{"p":"b3","s":"orange","l":"outer","M":3.214,"g":-2.393},{"p":"b3","s":"orange","l":"outer","M":3.188,"g":-2.576},{"p":"b3","s":"orange","l":"outer","M":3.137,"g":-2.723},{"p":"b3","s":"orange","l":"outer","M":3.111,"g":-2.906},{"p":"b3","s":"orange","l":"outer","M":3.034,"g":-3.053},{"p":"b3","s":"orange","l":"outer","M":2.983,"g":-3.163},{"p":"b3","s":"orange","l":"outer","M":2.829,"g":-3.273},{"p":"b3","s":"orange","l":"outer","M":2.675,"g":-3.346},{"p":"b3","s":"orange","l":"outer","M":2.521,"g":-3.438},{"p":"b3","s":"orange","l":"outer","M":2.418,"g":-3.493},{"p":"b3","s":"orange","l":"outer","M":2.264,"g":-3.475},{"p":"b3","s":"orange","l":"outer","M":2.161,"g":-3.383},{"p":"b3","s":"orange","l":"outer","M":2.135,"g":-3.2},{"p":"b3","s":"orange","l":"outer","M":2.11,"g":-3.016},{"p":"b3","s":"orange","l":"outer","M":2.11,"g":-2.87},{"p":"b3","s":"orange","l":"outer","M":2.135,"g":-2.613},{"p":"b3","s":"orange","l":"outer","M":2.084,"g":-2.393},{"p":"b3","s":"orange","l":"outer","M":2.033,"g":-2.21},{"p":"b3","s":"orange","l":"outer","M":1.956,"g":-2.1},{"p":"b3","s":"orange","l":"outer","M":1.904,"g":-2.027},
    {"p":"b4","s":"orange","l":"inner","M":2.007,"g":-1.917},{"p":"b4","s":"orange","l":"inner","M":2.11,"g":-1.843},{"p":"b4","s":"orange","l":"inner","M":2.315,"g":-1.788},{"p":"b4","s":"orange","l":"inner","M":2.623,"g":-1.752},{"p":"b4","s":"orange","l":"inner","M":2.931,"g":-1.733},{"p":"b4","s":"orange","l":"inner","M":3.188,"g":-1.726},{"p":"b4","s":"orange","l":"inner","M":3.342,"g":-1.788},{"p":"b4","s":"orange","l":"inner","M":3.368,"g":-1.88},{"p":"b4","s":"orange","l":"inner","M":3.291,"g":-1.953},{"p":"b4","s":"orange","l":"inner","M":3.137,"g":-2.008},{"p":"b4","s":"orange","l":"inner","M":2.931,"g":-2.063},{"p":"b4","s":"orange","l":"inner","M":2.726,"g":-2.136},{"p":"b4","s":"orange","l":"inner","M":2.521,"g":-2.173},{"p":"b4","s":"orange","l":"inner","M":2.315,"g":-2.136},{"p":"b4","s":"orange","l":"inner","M":2.161,"g":-2.063},{"p":"b4","s":"orange","l":"inner","M":2.033,"g":-2.008},
    {"p":"b5","s":"green","l":"outer","M":1.776,"g":-1.935},{"p":"b5","s":"green","l":"outer","M":1.853,"g":-1.843},{"p":"b5","s":"green","l":"outer","M":2.058,"g":-1.77},{"p":"b5","s":"green","l":"outer","M":2.315,"g":-1.715},{"p":"b5","s":"green","l":"outer","M":2.623,"g":-1.678},{"p":"b5","s":"green","l":"outer","M":2.931,"g":-1.66},{"p":"b5","s":"green","l":"outer","M":3.137,"g":-1.678},{"p":"b5","s":"green","l":"outer","M":3.24,"g":-1.77},{"p":"b5","s":"green","l":"outer","M":3.214,"g":-1.917},{"p":"b5","s":"green","l":"outer","M":3.137,"g":-2.027},{"p":"b5","s":"green","l":"outer","M":3.086,"g":-2.21},{"p":"b5","s":"green","l":"outer","M":3.06,"g":-2.393},{"p":"b5","s":"green","l":"outer","M":3.034,"g":-2.576},{"p":"b5","s":"green","l":"outer","M":3.008,"g":-2.76},{"p":"b5","s":"green","l":"outer","M":2.931,"g":-2.906},{"p":"b5","s":"green","l":"outer","M":2.829,"g":-3.053},{"p":"b5","s":"green","l":"outer","M":2.675,"g":-3.2},{"p":"b5","s":"green","l":"outer","M":2.572,"g":-3.31},{"p":"b5","s":"green","l":"outer","M":2.469,"g":-3.42},{"p":"b5","s":"green","l":"outer","M":2.289,"g":-3.456},{"p":"b5","s":"green","l":"outer","M":2.161,"g":-3.475},{"p":"b5","s":"green","l":"outer","M":2.033,"g":-3.511},{"p":"b5","s":"green","l":"outer","M":1.93,"g":-3.475},{"p":"b5","s":"green","l":"outer","M":1.904,"g":-3.346},{"p":"b5","s":"green","l":"outer","M":1.93,"g":-3.2},{"p":"b5","s":"green","l":"outer","M":1.956,"g":-3.053},{"p":"b5","s":"green","l":"outer","M":1.956,"g":-2.87},{"p":"b5","s":"green","l":"outer","M":1.981,"g":-2.686},{"p":"b5","s":"green","l":"outer","M":2.007,"g":-2.503},{"p":"b5","s":"green","l":"outer","M":2.033,"g":-2.32},{"p":"b5","s":"green","l":"outer","M":1.981,"g":-2.136},{"p":"b5","s":"green","l":"outer","M":1.879,"g":-2.027},{"p":"b5","s":"green","l":"outer","M":1.776,"g":-1.972},
    {"p":"b6","s":"green","l":"inner","M":1.956,"g":-1.935},{"p":"b6","s":"green","l":"inner","M":2.033,"g":-1.843},{"p":"b6","s":"green","l":"inner","M":2.315,"g":-1.77},{"p":"b6","s":"green","l":"inner","M":2.623,"g":-1.741},{"p":"b6","s":"green","l":"inner","M":2.931,"g":-1.752},{"p":"b6","s":"green","l":"inner","M":3.06,"g":-1.843},{"p":"b6","s":"green","l":"inner","M":3.034,"g":-1.953},{"p":"b6","s":"green","l":"inner","M":2.88,"g":-2.063},{"p":"b6","s":"green","l":"inner","M":2.777,"g":-2.136},{"p":"b6","s":"green","l":"inner","M":2.726,"g":-2.247},{"p":"b6","s":"green","l":"inner","M":2.675,"g":-2.357},{"p":"b6","s":"green","l":"inner","M":2.623,"g":-2.54},{"p":"b6","s":"green","l":"inner","M":2.572,"g":-2.687},{"p":"b6","s":"green","l":"inner","M":2.495,"g":-2.723},{"p":"b6","s":"green","l":"inner","M":2.444,"g":-2.65},{"p":"b6","s":"green","l":"inner","M":2.418,"g":-2.503},{"p":"b6","s":"green","l":"inner","M":2.392,"g":-2.32},{"p":"b6","s":"green","l":"inner","M":2.315,"g":-2.21},{"p":"b6","s":"green","l":"inner","M":2.161,"g":-2.136},{"p":"b6","s":"green","l":"inner","M":2.033,"g":-2.063},{"p":"b6","s":"green","l":"inner","M":1.956,"g":-1.99}
  ]
},
"hconcat": [
  {
    "title": {"text": "(a) without multipoles", "orient": "bottom", "anchor": "middle", "frame": "bounds", "font": "Liberation Serif", "fontSize": 20, "fontWeight": "normal", "color": "#000", "offset": 27},
    "spacing": 4, "bounds": "flush",
    "resolve": {"scale": {"x": "independent", "y": "independent", "color": "independent", "fill": "independent", "stroke": "independent", "fillOpacity": "independent", "strokeOpacity": "independent"}},
    "vconcat": [
      {
        "width": 277, "height": 293,
        "data": {"name": "mA"},
        "mark": {"type": "line", "strokeWidth": 2.8, "interpolate": "monotone", "clip": true},
        "encoding": {
          "x": {"field": "x", "type": "quantitative", "scale": {"domain": [0.29, 4.5], "nice": false, "zero": false}, "axis": {"values": [0.8, 1.6, 2.4, 3.2, 4.0], "labels": false, "title": null}},
          "y": {"field": "d", "type": "quantitative", "scale": {"domain": [0, 1.1], "nice": false}, "axis": null},
          "color": {"field": "s", "type": "nominal", "scale": {"domain": ["not supersampled", "supersampled", "supersampled w/ α-prior"], "range": ["#3a7fb9", "#ff7f0e", "#4caf4a"]},
            "legend": {"legendX": 191, "legendY": 2}}
        }
      },
      {
        "spacing": 4, "bounds": "flush",
        "resolve": {"scale": {"x": "independent", "y": "independent", "color": "independent", "fill": "independent", "stroke": "independent", "fillOpacity": "independent", "strokeOpacity": "independent"}},
        "hconcat": [
          {
            "width": 277, "height": 293,
            "layer": [
              {
                "data": {"name": "cA"},
                "mark": {"type": "line", "interpolate": "cardinal-closed", "strokeWidth": 3, "clip": true},
                "encoding": {
                  "x": {"field": "M", "type": "quantitative", "scale": {"domain": [0.29, 4.5], "nice": false, "zero": false}, "axis": {"values": [0.8, 1.6, 2.4, 3.2, 4.0], "format": ".1f", "title": "M2D(1kpc)/M⊙"}},
                  "y": {"field": "g", "type": "quantitative", "scale": {"domain": [-3.993, -1.137], "nice": false, "zero": false}, "axis": {"values": [-1.5, -2.0, -2.5, -3.0, -3.5], "format": ".1f", "title": "γ2D"}},
                  "detail": {"field": "p"},
                  "order": {"value": null},
                  "fill": {"field": "s", "type": "nominal", "scale": {"domain": ["blue", "orange", "green"], "range": ["#2d78b6", "#ff7f0e", "#3aa63a"]}, "legend": null},
                  "stroke": {"field": "s", "type": "nominal", "scale": {"domain": ["blue", "orange", "green"], "range": ["#2d78b6", "#ff7f0e", "#3aa63a"]}, "legend": null},
                  "fillOpacity": {"field": "l", "type": "ordinal", "scale": {"type": "ordinal", "domain": ["outer", "inner"], "range": [0.3, 0.75]}, "legend": null},
                  "strokeOpacity": {"field": "l", "type": "ordinal", "scale": {"type": "ordinal", "domain": ["outer", "inner"], "range": [0.4, 0]}, "legend": null}
                }
              },
              {
                "data": {"values": [{"t": "1e9"}]},
                "mark": {"type": "text", "align": "right", "baseline": "middle", "font": "DejaVu Sans", "fontSize": 11, "color": "#000"},
                "encoding": {"x": {"datum": 4.5, "type": "quantitative"}, "y": {"datum": -4.33, "type": "quantitative"}, "text": {"field": "t"}}
              }
            ]
          },
          {
            "width": 277, "height": 293,
            "data": {"name": "gA"},
            "mark": {"type": "line", "strokeWidth": 2.8, "interpolate": "monotone", "clip": true},
            "encoding": {
              "x": {"field": "x", "type": "quantitative", "scale": {"domain": [-3.99, -1.132], "nice": false, "zero": false}, "axis": {"values": [-3.5, -3.0, -2.5, -2.0, -1.5], "format": ".1f", "title": "γ2D"}},
              "y": {"field": "d", "type": "quantitative", "scale": {"domain": [0, 1.1], "nice": false}, "axis": null},
              "color": {"field": "s", "type": "nominal", "scale": {"domain": ["not supersampled", "supersampled", "supersampled w/ α-prior"], "range": ["#3a7fb9", "#ff7f0e", "#4caf4a"]}, "legend": null}
            }
          }
        ]
      }
    ]
  },
  {
    "title": {"text": "(b) with multipoles", "orient": "bottom", "anchor": "middle", "frame": "bounds", "font": "Liberation Serif", "fontSize": 20, "fontWeight": "normal", "color": "#000", "offset": 27},
    "spacing": 4, "bounds": "flush",
    "resolve": {"scale": {"x": "independent", "y": "independent", "color": "independent", "fill": "independent", "stroke": "independent", "fillOpacity": "independent", "strokeOpacity": "independent"}},
    "vconcat": [
      {
        "width": 277, "height": 293,
        "data": {"name": "mB"},
        "mark": {"type": "line", "strokeWidth": 2.8, "interpolate": "monotone", "clip": true},
        "encoding": {
          "x": {"field": "x", "type": "quantitative", "scale": {"domain": [0.3, 4.56], "nice": false, "zero": false}, "axis": {"values": [0.8, 1.6, 2.4, 3.2, 4.0], "labels": false, "title": null}},
          "y": {"field": "d", "type": "quantitative", "scale": {"domain": [0, 1.1], "nice": false}, "axis": null},
          "color": {"field": "s", "type": "nominal", "scale": {"domain": ["not supersampled", "supersampled", "supersampled w/ α-prior"], "range": ["#3a7fb9", "#ff7f0e", "#4caf4a"]},
            "legend": {"legendX": 190, "legendY": 2}}
        }
      },
      {
        "spacing": 4, "bounds": "flush",
        "resolve": {"scale": {"x": "independent", "y": "independent", "color": "independent", "fill": "independent", "stroke": "independent", "fillOpacity": "independent", "strokeOpacity": "independent"}},
        "hconcat": [
          {
            "width": 277, "height": 293,
            "layer": [
              {
                "data": {"name": "cB"},
                "mark": {"type": "line", "interpolate": "cardinal-closed", "strokeWidth": 3, "clip": true},
                "encoding": {
                  "x": {"field": "M", "type": "quantitative", "scale": {"domain": [0.3, 4.56], "nice": false, "zero": false}, "axis": {"values": [0.8, 1.6, 2.4, 3.2, 4.0], "format": ".1f", "title": "M2D(1kpc)/M⊙"}},
                  "y": {"field": "g", "type": "quantitative", "scale": {"domain": [-3.852, -0.634], "nice": false, "zero": false}, "axis": {"values": [-1.0, -1.5, -2.0, -2.5, -3.0, -3.5], "format": ".1f", "title": "γ2D"}},
                  "detail": {"field": "p"},
                  "order": {"value": null},
                  "fill": {"field": "s", "type": "nominal", "scale": {"domain": ["blue", "orange", "green"], "range": ["#2d78b6", "#ff7f0e", "#3aa63a"]}, "legend": null},
                  "stroke": {"field": "s", "type": "nominal", "scale": {"domain": ["blue", "orange", "green"], "range": ["#2d78b6", "#ff7f0e", "#3aa63a"]}, "legend": null},
                  "fillOpacity": {"field": "l", "type": "ordinal", "scale": {"type": "ordinal", "domain": ["outer", "inner"], "range": [0.3, 0.75]}, "legend": null},
                  "strokeOpacity": {"field": "l", "type": "ordinal", "scale": {"type": "ordinal", "domain": ["outer", "inner"], "range": [0.4, 0]}, "legend": null}
                }
              },
              {
                "data": {"values": [{"t": "1e9"}]},
                "mark": {"type": "text", "align": "right", "baseline": "middle", "font": "DejaVu Sans", "fontSize": 11, "color": "#000"},
                "encoding": {"x": {"datum": 4.56, "type": "quantitative"}, "y": {"datum": -4.23, "type": "quantitative"}, "text": {"field": "t"}}
              }
            ]
          },
          {
            "width": 277, "height": 293,
            "data": {"name": "gB"},
            "mark": {"type": "line", "strokeWidth": 2.8, "interpolate": "monotone", "clip": true},
            "encoding": {
              "x": {"field": "x", "type": "quantitative", "scale": {"domain": [-3.852, -0.636], "nice": false, "zero": false}, "axis": {"values": [-3.5, -3.0, -2.5, -2.0, -1.5, -1.0], "format": ".1f", "title": "γ2D"}},
              "y": {"field": "d", "type": "quantitative", "scale": {"domain": [0, 1.1], "nice": false}, "axis": null},
              "color": {"field": "s", "type": "nominal", "scale": {"domain": ["not supersampled", "supersampled", "supersampled w/ α-prior"], "range": ["#3a7fb9", "#ff7f0e", "#4caf4a"]}, "legend": null}
            }
          }
        ]
      }
    ]
  }
],
"spacing": 37,
"resolve": {"scale": {"x": "independent", "y": "independent", "color": "independent", "fill": "independent", "stroke": "independent", "fillOpacity": "independent", "strokeOpacity": "independent"}}
}
